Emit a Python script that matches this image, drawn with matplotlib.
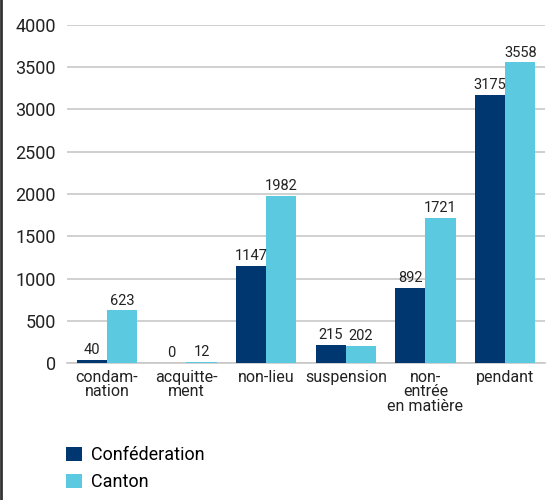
import numpy as np
import matplotlib
matplotlib.use('Agg')
import matplotlib.pyplot as plt
from matplotlib.patches import Patch
from matplotlib.lines import Line2D

categories = ['condam-\nnation', 'acquitte-\nment', 'non-lieu', 'suspension',
              'non-\nentrée\nen matière', 'pendant']
confederation = [40, 0, 1147, 215, 892, 3175]
canton = [623, 12, 1982, 202, 1721, 3558]
yticks = [0, 500, 1000, 1500, 2000, 2500, 3000, 3500, 4000]

dark = '#003770'
light = '#5bc9df'

plt.rcParams['font.family'] = ['Roboto', 'DejaVu Sans']

fig = plt.figure(figsize=(5.54, 5.0), dpi=100, facecolor='white')
ax = fig.add_axes([67 / 554, 1 - 363 / 500, (545 - 67) / 554, (363 - 25) / 500])

x = np.arange(len(categories))
width = 0.38

bars1 = ax.bar(x - width / 2, confederation, width=width, color=dark, zorder=3)
bars2 = ax.bar(x + width / 2, canton, width=width, color=light, zorder=3)

for bars in (bars1, bars2):
    for b in bars:
        h = b.get_height()
        ax.annotate(f'{int(h)}', (b.get_x() + b.get_width() / 2, h),
                    textcoords='offset points', xytext=(0, 2),
                    ha='center', va='bottom', fontsize=10.5, color='#222222')

ax.set_xlim(-0.5, len(categories) - 0.5)
ax.set_ylim(0, 4000)
ax.set_yticks(yticks)
ax.yaxis.grid(True, color='#c8c8c8', linewidth=1.2, zorder=0)
ax.set_axisbelow(True)
for s in ['top', 'right', 'left']:
    ax.spines[s].set_visible(False)
ax.spines['bottom'].set_color('#c8c8c8')
ax.spines['bottom'].set_linewidth(1.2)

ax.set_xticks(x)
ax.set_xticklabels(categories, fontsize=11.5, linespacing=0.95, color='#222222')
ax.tick_params(axis='x', length=0, pad=5)
ax.tick_params(axis='y', length=0, pad=8, labelsize=13, labelcolor='#222222')

handles = [Patch(facecolor=dark), Patch(facecolor=light)]
fig.legend(handles, ['Conféderation', 'Canton'], loc='upper left',
           bbox_to_anchor=(50 / 554, 1 - 430 / 500), frameon=False,
           fontsize=13, handlelength=0.85, handleheight=0.85,
           handletextpad=0.5, labelspacing=0.5)

fig.add_artist(Line2D([0.001, 0.001], [0, 1], color='#333333', linewidth=2,
                      transform=fig.transFigure))

fig.savefig('out.png', dpi=100, facecolor='white')
